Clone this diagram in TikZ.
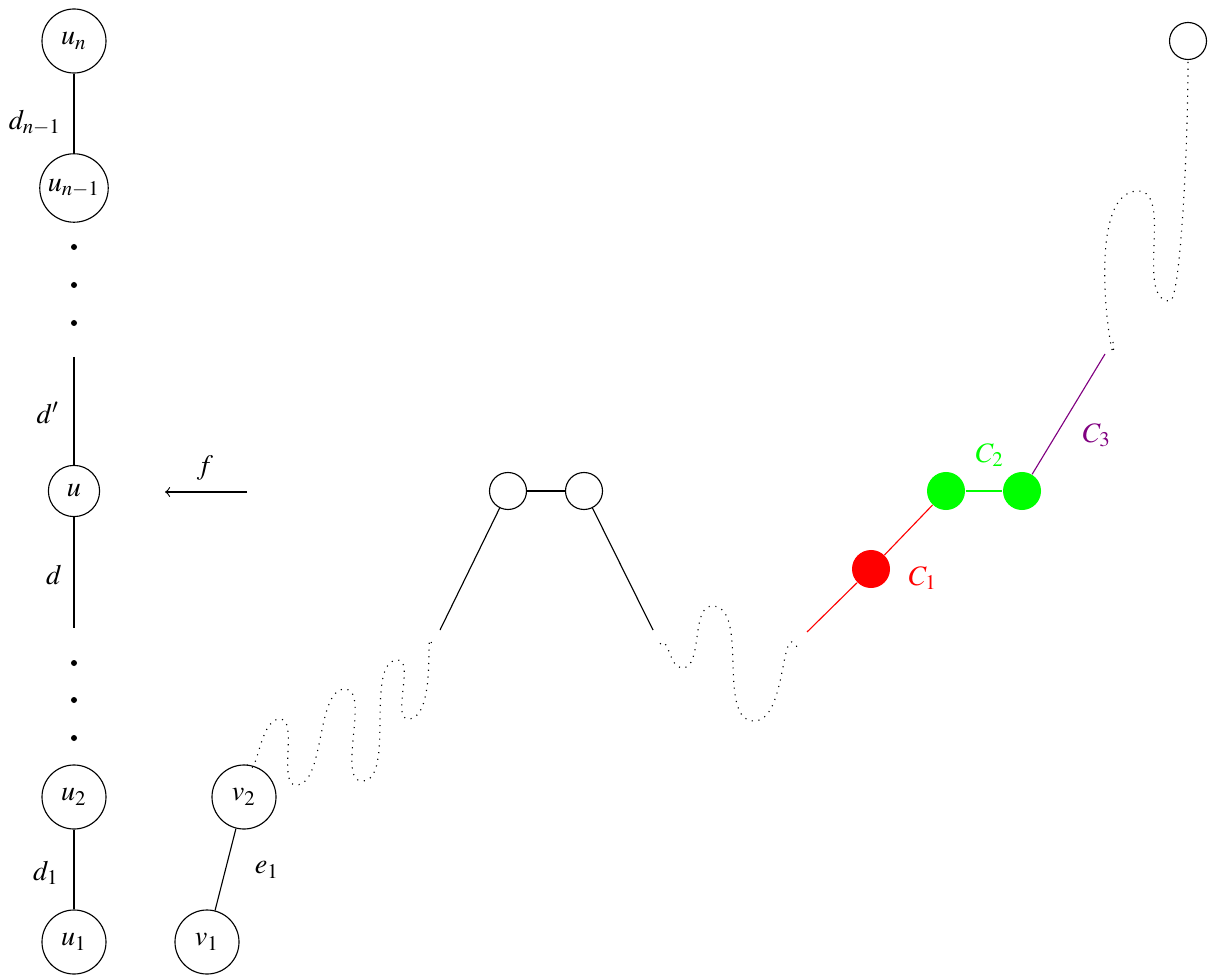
\documentclass[tikz,border=0pt]{standalone}
\usepackage{amsmath}
\usepackage{mathptmx}
\usepackage{tikz}
\usepackage{xcolor}

\definecolor{cone}{RGB}{255,0,0}
\definecolor{ctwo}{RGB}{0,255,0}
\definecolor{cthree}{RGB}{128,0,128}

\tikzset{
    vertex/.style={draw, circle, inner sep=1.8pt, minimum size=0.8cm},
    blank/.style={draw, circle, minimum size=0.4625cm, inner sep=0pt},
    solidv/.style={circle, fill=#1, minimum size=0.475cm, inner sep=0pt},
    wave/.style={dotted}
}

\begin{document}
\begin{tikzpicture}[x=0.0125cm, y=-0.0125cm]
        \useasboundingbox (0,0) rectangle (1213,979);

        % --- Left column: the path u_1 ... u_n ---
        \node[vertex] (un) at (74, 41) {$u_n$};
        \node[vertex] (unm) at (74, 188) {$u_{n-1}$};
        \draw (un) -- (unm);
        \node at (35, 123) {$d_{n-1}$};

        \foreach \y in {247, 285, 323, 663, 700, 738}
            \fill (74, \y) circle (3);

        \node[vertex, minimum size=0.64cm] (u) at (74, 491) {$u$};
        \coordinate (dtop) at (74, 357);
        \coordinate (dbot) at (74, 628);
        \draw (dtop) -- (u);
        \draw (u) -- (dbot);
        \node at (48, 413) {$d'$};
        \node at (54, 575) {$d$};

        \node[vertex] (utwo) at (74, 797) {$u_2$};
        \node[vertex] (uone) at (74, 942) {$u_1$};
        \draw (utwo) -- (uone);
        \node at (46, 873) {$d_1$};

        % --- The map f ---
        \coordinate (fstart) at (247, 492);
        \coordinate (fend) at (165, 492);
        \draw[->] (fstart) -- (fend);
        \node at (205, 468) {$f$};

        % --- Right: the path v_1, v_2, ... ---
        \node[vertex] (vone) at (207, 942) {$v_1$};
        \node[vertex] (vtwo) at (244, 797) {$v_2$};
        \draw (vone) -- (vtwo);
        \node at (267, 870) {$e_1$};

        % wiggly part up to the first solid segment
        \draw[wave] (vtwo.85) to[out=-60, in=180] (280,719)
            to[out=0, in=180, looseness=0.7] (296,785)
            to[out=0, in=180, looseness=0.7] (345,689)
            to[out=0, in=180, looseness=0.7] (362,781)
            to[out=0, in=180, looseness=0.7] (398,660)
            to[out=0, in=180, looseness=0.7] (408,719)
            to[out=0, in=105] (432,645);
        \coordinate (aone) at (440, 630);

        \node[blank] (pa) at (508, 491) {};
        \node[blank] (pb) at (584, 491) {};
        \draw (aone) -- (pa);
        \draw (pa) -- (pb);
        \coordinate (atwo) at (653, 630);
        \draw (pb) -- (atwo);

        \draw[wave] (660,644) to[out=50, in=180] (682,668)
            to[out=0, in=180, looseness=0.8] (712,606)
            to[out=0, in=180, looseness=0.8] (754,721)
            to[out=0, in=120] (797,647);

        % --- Coloured part C_1, C_2, C_3 ---
        \coordinate (rstart) at (807, 632);
        \node[solidv=cone] (rc) at (871, 569) {};
        \node[solidv=ctwo] (ga) at (946, 491) {};
        \node[solidv=ctwo] (gb) at (1022, 491) {};
        \draw[cone] (rstart) -- (rc);
        \draw[cone] (rc) -- (ga);
        \draw[ctwo] (ga) -- (gb);
        \coordinate (pend) at (1105, 354);
        \draw[cthree] (gb) -- (pend);
        \node[cone] at (923, 578) {$C_1$};
        \node[ctwo] at (990, 455) {$C_2$};
        \node[cthree] at (1097, 435) {$C_3$};

        % last wiggle up to the top vertex
        \node[blank] (top) at (1188, 41) {};
        \draw[wave] (1113,342) to[out=-85, in=180] (1138,191)
            to[out=0, in=180, looseness=0.8] (1170,301)
            .. controls (1180,301) and (1188,150) .. (top.south);

    \end{tikzpicture}
\end{document}
